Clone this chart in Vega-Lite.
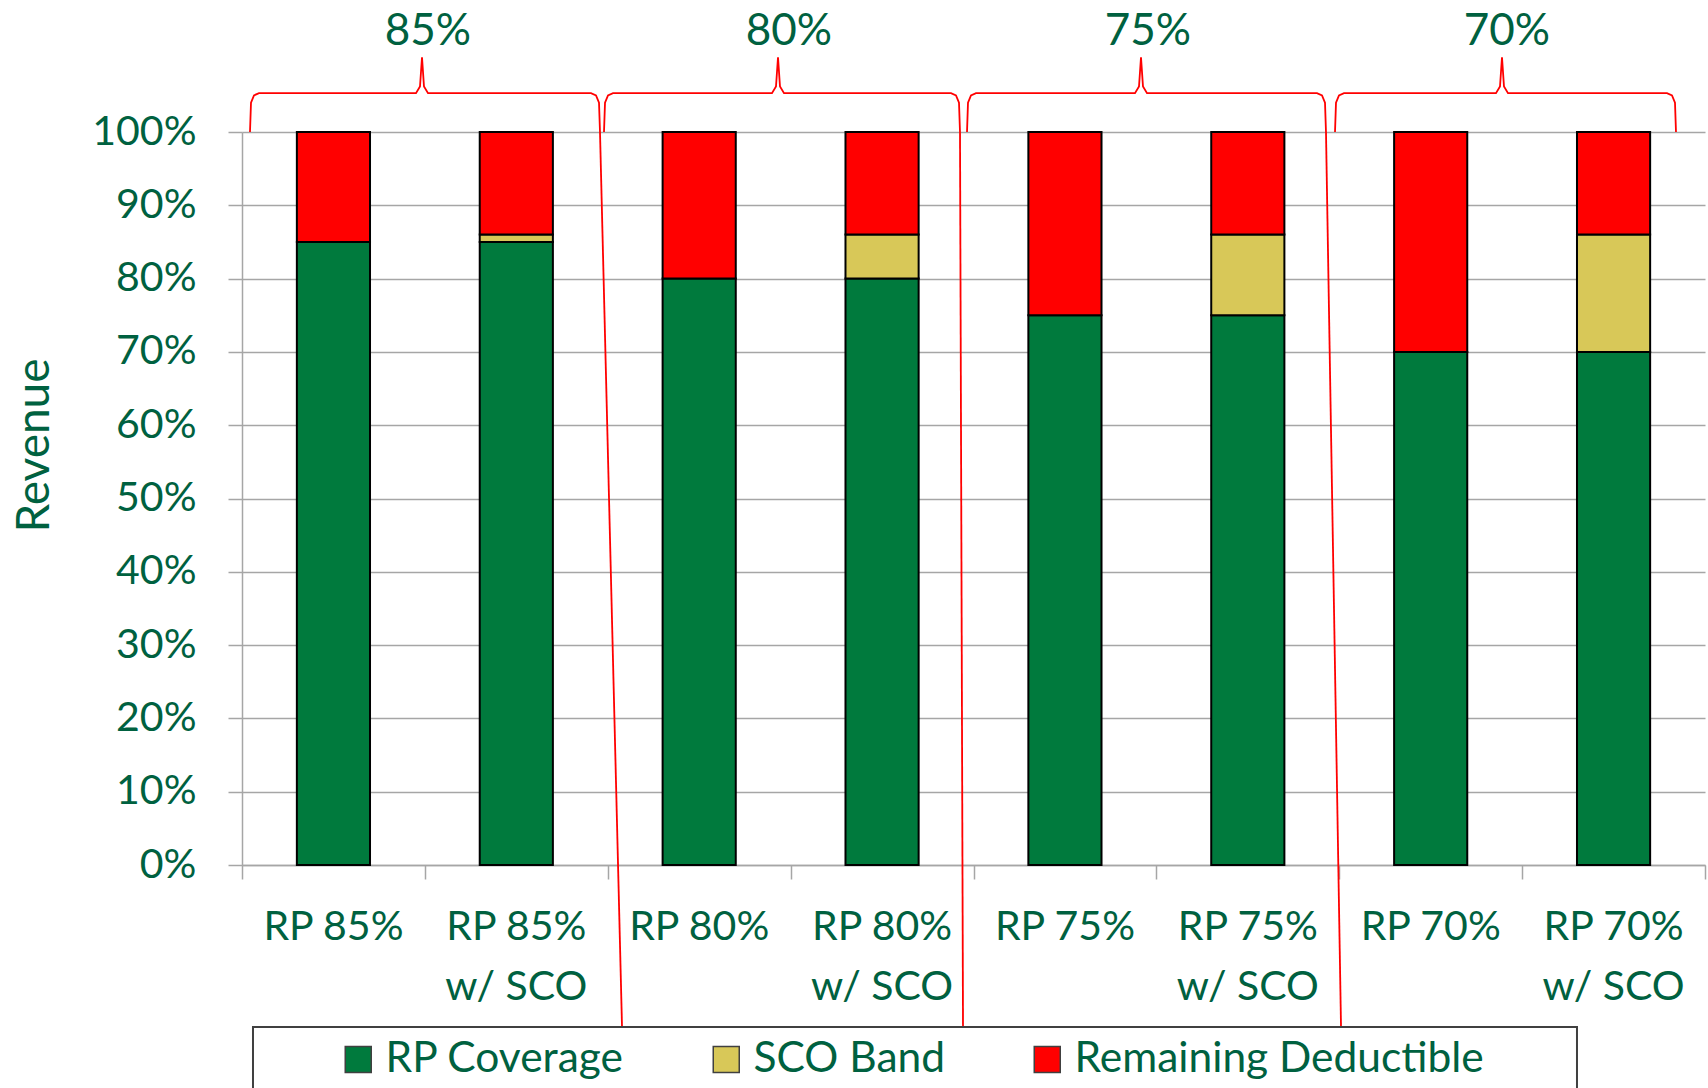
{
  "$schema": "https://vega.github.io/schema/vega-lite/v6.json",
  "width": 1463,
  "height": 733,
  "autosize": {"type": "none"},
  "padding": {"left": 242, "top": 132, "right": 3, "bottom": 223},
  "background": "white",
  "config": {"font": "Lato", "view": {"stroke": null}},
  "datasets": {
    "revenue": [
      {"option": "RP 85%", "component": "RP Coverage", "start": 0.0, "end": 0.85},
      {"option": "RP 85%", "component": "Remaining Deductible", "start": 0.85, "end": 1.0},
      {"option": "RP 85% w/ SCO", "component": "RP Coverage", "start": 0.0, "end": 0.85},
      {"option": "RP 85% w/ SCO", "component": "SCO Band", "start": 0.85, "end": 0.86},
      {"option": "RP 85% w/ SCO", "component": "Remaining Deductible", "start": 0.86, "end": 1.0},
      {"option": "RP 80%", "component": "RP Coverage", "start": 0.0, "end": 0.80},
      {"option": "RP 80%", "component": "Remaining Deductible", "start": 0.80, "end": 1.0},
      {"option": "RP 80% w/ SCO", "component": "RP Coverage", "start": 0.0, "end": 0.80},
      {"option": "RP 80% w/ SCO", "component": "SCO Band", "start": 0.80, "end": 0.86},
      {"option": "RP 80% w/ SCO", "component": "Remaining Deductible", "start": 0.86, "end": 1.0},
      {"option": "RP 75%", "component": "RP Coverage", "start": 0.0, "end": 0.75},
      {"option": "RP 75%", "component": "Remaining Deductible", "start": 0.75, "end": 1.0},
      {"option": "RP 75% w/ SCO", "component": "RP Coverage", "start": 0.0, "end": 0.75},
      {"option": "RP 75% w/ SCO", "component": "SCO Band", "start": 0.75, "end": 0.86},
      {"option": "RP 75% w/ SCO", "component": "Remaining Deductible", "start": 0.86, "end": 1.0},
      {"option": "RP 70%", "component": "RP Coverage", "start": 0.0, "end": 0.70},
      {"option": "RP 70%", "component": "Remaining Deductible", "start": 0.70, "end": 1.0},
      {"option": "RP 70% w/ SCO", "component": "RP Coverage", "start": 0.0, "end": 0.70},
      {"option": "RP 70% w/ SCO", "component": "SCO Band", "start": 0.70, "end": 0.86},
      {"option": "RP 70% w/ SCO", "component": "Remaining Deductible", "start": 0.86, "end": 1.0}
    ],
    "braces": [
      {"brace": "85%", "pos": 0.0437, "level": 1.0},
      {"brace": "85%", "pos": 0.0492, "level": 1.04},
      {"brace": "85%", "pos": 0.0656, "level": 1.05},
      {"brace": "85%", "pos": 0.0930, "level": 1.053},
      {"brace": "85%", "pos": 0.9515, "level": 1.053},
      {"brace": "85%", "pos": 0.9733, "level": 1.062},
      {"brace": "85%", "pos": 0.9843, "level": 1.102},
      {"brace": "85%", "pos": 0.9952, "level": 1.062},
      {"brace": "85%", "pos": 1.0171, "level": 1.053},
      {"brace": "85%", "pos": 1.9084, "level": 1.053},
      {"brace": "85%", "pos": 1.9358, "level": 1.05},
      {"brace": "85%", "pos": 1.9522, "level": 1.04},
      {"brace": "85%", "pos": 1.9576, "level": 1.0},
      {"brace": "80%", "pos": 1.9795, "level": 1.0},
      {"brace": "80%", "pos": 1.9850, "level": 1.04},
      {"brace": "80%", "pos": 2.0014, "level": 1.05},
      {"brace": "80%", "pos": 2.0287, "level": 1.053},
      {"brace": "80%", "pos": 2.8981, "level": 1.053},
      {"brace": "80%", "pos": 2.9200, "level": 1.062},
      {"brace": "80%", "pos": 2.9310, "level": 1.102},
      {"brace": "80%", "pos": 2.9419, "level": 1.062},
      {"brace": "80%", "pos": 2.9638, "level": 1.053},
      {"brace": "80%", "pos": 3.8770, "level": 1.053},
      {"brace": "80%", "pos": 3.9043, "level": 1.05},
      {"brace": "80%", "pos": 3.9207, "level": 1.04},
      {"brace": "80%", "pos": 3.9262, "level": 1.0},
      {"brace": "75%", "pos": 3.9645, "level": 1.0},
      {"brace": "75%", "pos": 3.9699, "level": 1.04},
      {"brace": "75%", "pos": 3.9863, "level": 1.05},
      {"brace": "75%", "pos": 4.0137, "level": 1.053},
      {"brace": "75%", "pos": 4.8831, "level": 1.053},
      {"brace": "75%", "pos": 4.9050, "level": 1.062},
      {"brace": "75%", "pos": 4.9159, "level": 1.102},
      {"brace": "75%", "pos": 4.9269, "level": 1.062},
      {"brace": "75%", "pos": 4.9487, "level": 1.053},
      {"brace": "75%", "pos": 5.8783, "level": 1.053},
      {"brace": "75%", "pos": 5.9057, "level": 1.05},
      {"brace": "75%", "pos": 5.9221, "level": 1.04},
      {"brace": "75%", "pos": 5.9275, "level": 1.0},
      {"brace": "70%", "pos": 5.9768, "level": 1.0},
      {"brace": "70%", "pos": 5.9822, "level": 1.04},
      {"brace": "70%", "pos": 5.9986, "level": 1.05},
      {"brace": "70%", "pos": 6.0260, "level": 1.053},
      {"brace": "70%", "pos": 6.8571, "level": 1.053},
      {"brace": "70%", "pos": 6.8790, "level": 1.062},
      {"brace": "70%", "pos": 6.8899, "level": 1.102},
      {"brace": "70%", "pos": 6.9009, "level": 1.062},
      {"brace": "70%", "pos": 6.9227, "level": 1.053},
      {"brace": "70%", "pos": 7.7922, "level": 1.053},
      {"brace": "70%", "pos": 7.8195, "level": 1.05},
      {"brace": "70%", "pos": 7.8359, "level": 1.04},
      {"brace": "70%", "pos": 7.8414, "level": 1.0}
    ],
    "connectors": [
      {"from_pos": 1.9576, "from_level": 1.0, "to_pos": 2.0779, "to_level": -0.2196},
      {"from_pos": 3.9262, "from_level": 1.0, "to_pos": 3.9426, "to_level": -0.2196},
      {"from_pos": 5.9275, "from_level": 1.0, "to_pos": 6.0096, "to_level": -0.2196}
    ],
    "groups": [
      {"label": "85%", "pos": 1.017, "level": 1.1187},
      {"label": "80%", "pos": 2.991, "level": 1.1187},
      {"label": "75%", "pos": 4.954, "level": 1.1187},
      {"label": "70%", "pos": 6.917, "level": 1.1187}
    ]
  },
  "layer": [
    {
      "data": {"name": "revenue"},
      "mark": {"type": "bar", "stroke": "#000000", "strokeWidth": 2},
      "encoding": {
        "x": {
          "field": "option", "type": "nominal", "sort": null,
          "scale": {"paddingInner": 0.6, "paddingOuter": 0.3},
          "axis": {
            "orient": "bottom", "title": null, "domain": false, "ticks": false, "grid": false,
            "labelAngle": 0, "labelFontSize": 41, "labelColor": "#006140", "labelFont": "Lato",
            "labelPadding": 42, "labelLineHeight": 60, "labelLimit": 0, "labelBaseline": "top",
            "labelExpr": "indexof(datum.label, ' w/ SCO') > 0 ? [replace(datum.label, ' w/ SCO', ''), 'w/ SCO'] : datum.label"
          }
        },
        "y": {
          "field": "start", "type": "quantitative",
          "scale": {"domain": [0, 1], "nice": false},
          "axis": {
            "title": "Revenue", "values": [0, 0.1, 0.2, 0.3, 0.4, 0.5, 0.6, 0.7, 0.8, 0.9, 1.0], "format": ".0%",
            "labelFontSize": 41, "labelColor": "#006140", "labelFont": "Lato", "labelPadding": 32,
            "tickSize": 14, "tickColor": "#A6A6A6", "tickWidth": 1.5,
            "domainColor": "#A6A6A6", "domainWidth": 1.5,
            "gridColor": "#A6A6A6", "gridWidth": 1.5,
            "titleFontSize": 46, "titleColor": "#006140", "titleFontWeight": "normal", "titleFont": "Lato",
            "titleX": -194, "titleY": 313, "titleAngle": 270, "titleAlign": "center", "titleBaseline": "alphabetic"
          }
        },
        "y2": {"field": "end"},
        "color": {
          "field": "component", "type": "nominal",
          "scale": {"domain": ["RP Coverage", "SCO Band", "Remaining Deductible"], "range": ["#007A3D", "#D8C858", "#FF0000"]},
          "legend": {
            "orient": "none", "legendX": 95, "legendY": 906, "direction": "horizontal", "title": null,
            "labelFontSize": 42.5, "labelColor": "#006140", "labelFont": "Lato", "labelLimit": 600,
            "symbolType": "square", "symbolSize": 676, "symbolStrokeColor": "#404040", "symbolStrokeWidth": 1.5,
            "labelOffset": 6, "columnPadding": 80, "padding": 0
          }
        }
      }
    },
    {
      "layer": [
        {
          "data": {"name": "braces"},
          "mark": {"type": "line", "color": "#FF0000", "strokeWidth": 1.8, "clip": false},
          "encoding": {
            "x": {"field": "pos", "type": "quantitative", "scale": {"domain": [0, 8], "nice": false, "zero": false},
              "axis": {"orient": "bottom", "values": [0, 1, 2, 3, 4, 5, 6, 7, 8], "labels": false, "title": null, "grid": false,
                "tickSize": 14, "tickColor": "#A6A6A6", "tickWidth": 1.5, "domainColor": "#A6A6A6", "domainWidth": 1.5}},
            "y": {"field": "level", "type": "quantitative", "scale": {"domain": [0, 1], "nice": false}},
            "detail": {"field": "brace", "type": "nominal"}
          }
        },
        {
          "data": {"name": "connectors"},
          "mark": {"type": "rule", "color": "#FF0000", "strokeWidth": 1.8, "clip": false},
          "encoding": {
            "x": {"field": "from_pos", "type": "quantitative", "scale": {"domain": [0, 8], "nice": false, "zero": false}},
            "x2": {"field": "to_pos"},
            "y": {"field": "from_level", "type": "quantitative", "scale": {"domain": [0, 1], "nice": false}},
            "y2": {"field": "to_level"}
          }
        },
        {
          "data": {"name": "groups"},
          "mark": {"type": "text", "fontSize": 44, "color": "#006140", "font": "Lato", "align": "center", "baseline": "alphabetic", "clip": false},
          "encoding": {
            "x": {"field": "pos", "type": "quantitative", "scale": {"domain": [0, 8], "nice": false, "zero": false}},
            "y": {"field": "level", "type": "quantitative", "scale": {"domain": [0, 1], "nice": false}},
            "text": {"field": "label", "type": "nominal"}
          }
        },
        {
          "data": {"values": [{}]},
          "mark": {"type": "rect", "filled": false, "stroke": "#404040", "strokeWidth": 2, "clip": false},
          "encoding": {
            "x": {"datum": 0.0601, "type": "quantitative", "scale": {"domain": [0, 8], "nice": false, "zero": false}},
            "x2": {"datum": 7.3},
            "y": {"datum": -0.221, "type": "quantitative", "scale": {"domain": [0, 1], "nice": false}},
            "y2": {"datum": -0.4}
          }
        }
      ]
    }
  ],
  "resolve": {"scale": {"x": "independent"}, "axis": {"x": "independent"}}
}
